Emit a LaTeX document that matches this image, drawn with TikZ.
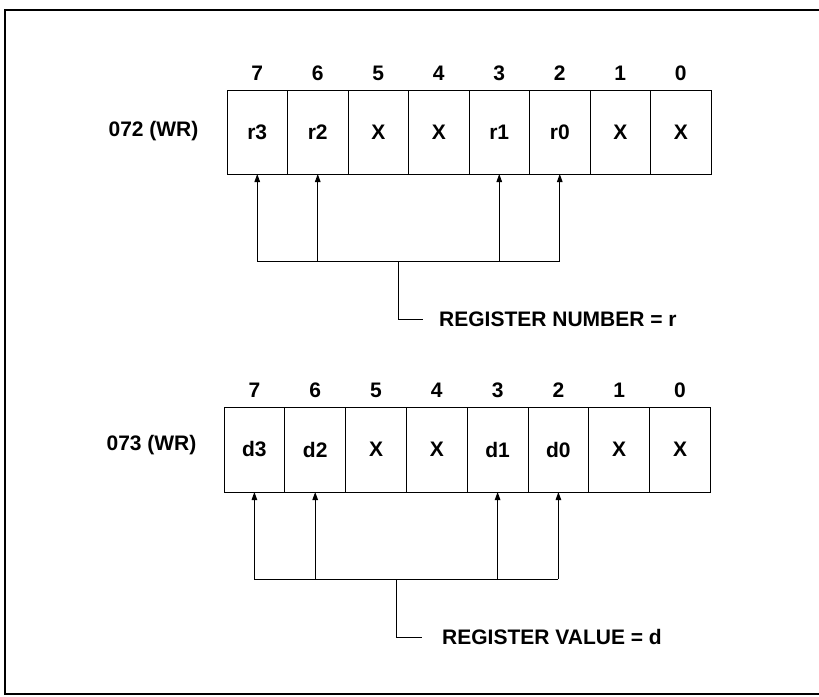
\documentclass[tikz,border=0pt]{standalone}
\usepackage{fontspec}
\setmainfont{Liberation Sans}
\usetikzlibrary{arrows.meta}
\newcommand\lbl{\fontsize{21}{25}\selectfont\bfseries}
\begin{document}
\begin{tikzpicture}[x=1pt,y=-1pt,
  cellA/.style={draw,line width=1pt,minimum width=60.5pt,minimum height=84pt,inner sep=0pt,outer sep=0pt,anchor=north west,font=\lbl},
  cellB/.style={draw,line width=1pt,minimum width=60.8pt,minimum height=85pt,inner sep=0pt,outer sep=0pt,anchor=north west,font=\lbl},
  bitn/.style={font=\lbl,inner sep=0pt},
  txt/.style={font=\lbl,inner sep=0pt},
  conn/.style={line width=1pt},
  arr/.style={line width=1pt,-{Triangle[width=5.5pt,length=8pt]}},
  frame/.style={line width=2.2pt}]
\useasboundingbox (0,0) rectangle (819,696);
\draw[frame] (830,10) -- (5,10) -- (5,694) -- (830,694);

% register 072
\foreach \t [count=\i from 0] in {r3,r2,X,X,r1,r0,X,X}
  \node[cellA] (a\i) at (227+60.5*\i,90) {\t};
\foreach \b [count=\i from 0] in {7,6,5,4,3,2,1,0}
  \path (a\i.north) ++(0,-17) node[bitn] (na\i) {\b};
\node[txt] (regA) at (153.5,131) {072 (WR)};
\coordinate (busA) at (0,261);
\coordinate (stemA) at (398,261);
\node[txt,anchor=west] (labA) at (439,319) {REGISTER NUMBER = r};
\draw[conn] (a0.south |- busA) -- (a5.south |- busA);
\foreach \i in {0,1,4,5}
  \draw[arr] (a\i.south |- busA) -- (a\i.south);
\draw[conn] (stemA) |- ([xshift=-16pt]labA.west);

% register 073
\foreach \t [count=\i from 0] in {d3,d2,X,X,d1,d0,X,X}
  \node[cellB] (b\i) at (224+60.8*\i,407) {\t};
\foreach \b [count=\i from 0] in {7,6,5,4,3,2,1,0}
  \path (b\i.north) ++(0,-17) node[bitn] (nb\i) {\b};
\node[txt] (regB) at (151.5,445) {073 (WR)};
\coordinate (busB) at (0,579);
\coordinate (stemB) at (396,579);
\node[txt,anchor=west] (labB) at (442,637) {REGISTER VALUE = d};
\draw[conn] (b0.south |- busB) -- (b5.south |- busB);
\foreach \i in {0,1,4,5}
  \draw[arr] (b\i.south |- busB) -- (b\i.south);
\draw[conn] (stemB) |- ([xshift=-20pt]labB.west);
\end{tikzpicture}
\end{document}
